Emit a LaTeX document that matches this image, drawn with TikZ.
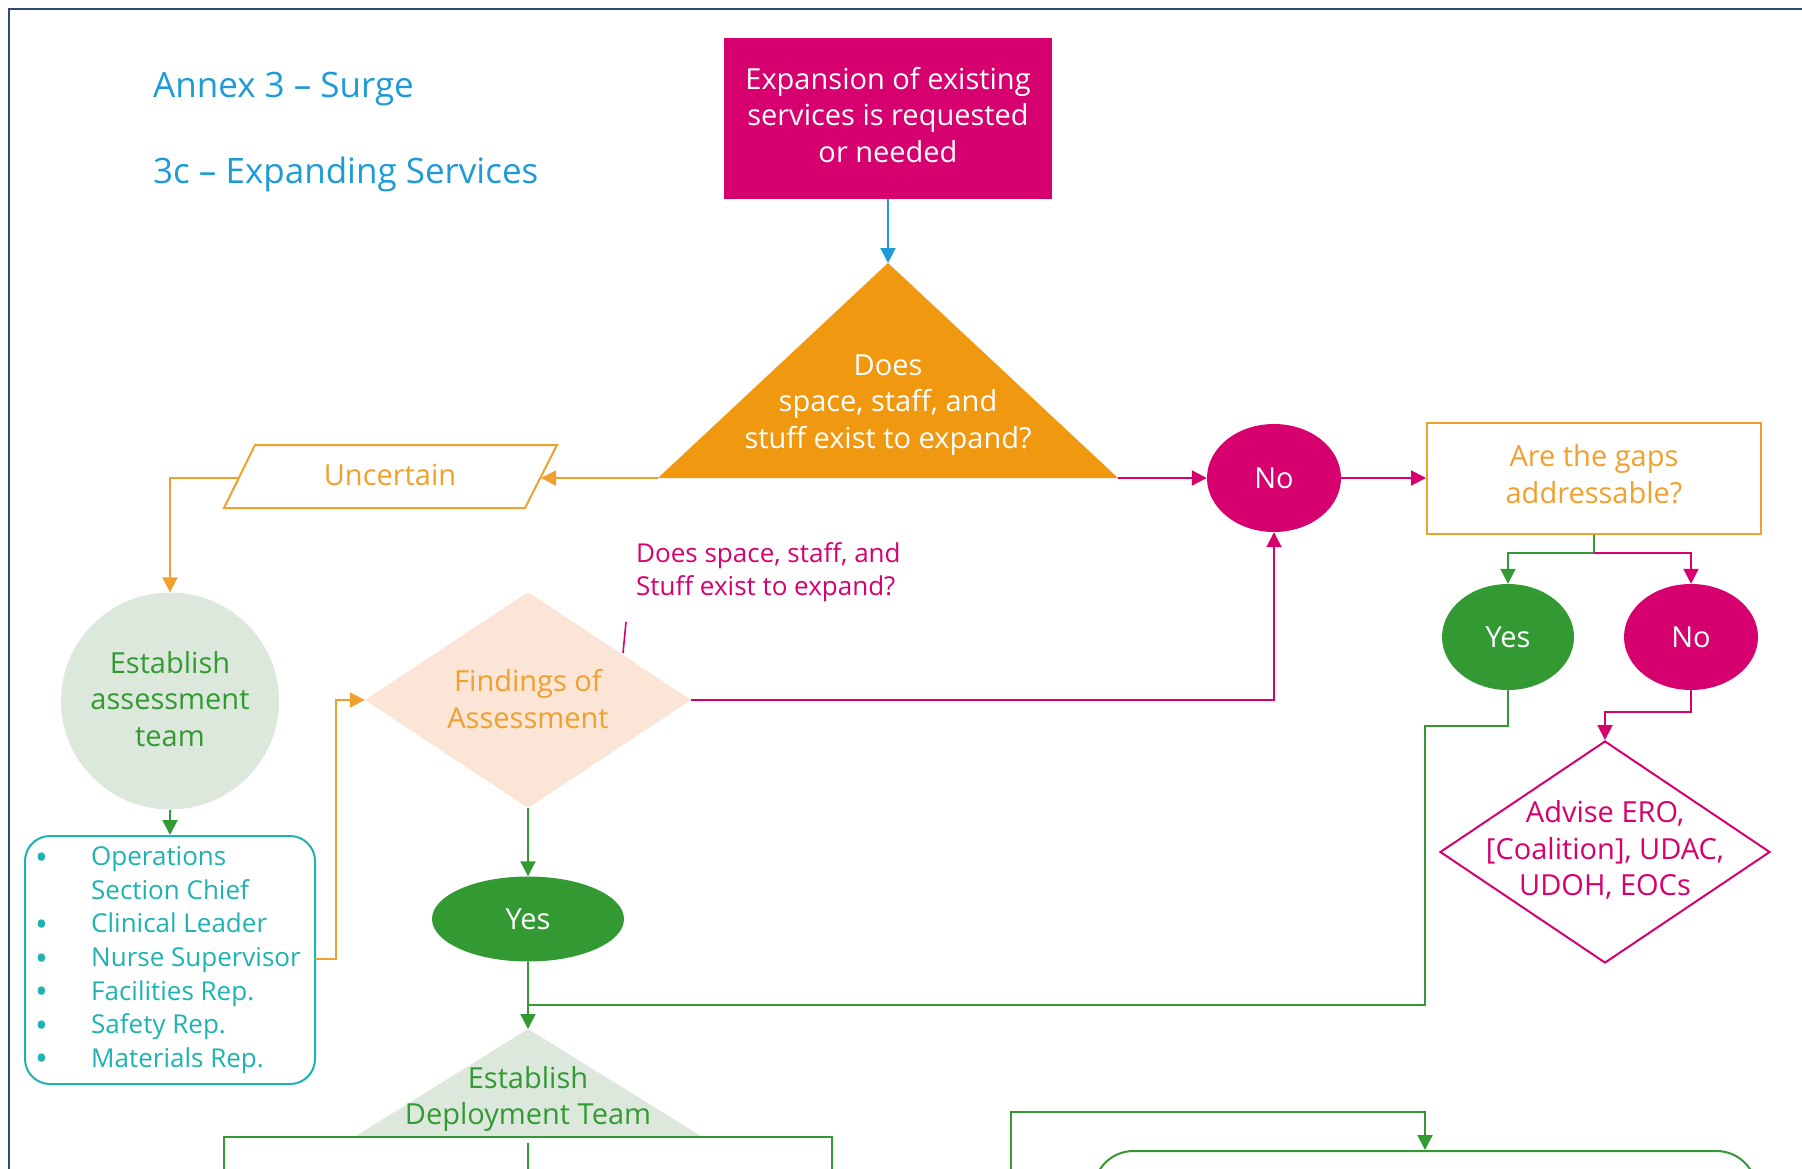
\documentclass[tikz,border=0pt]{standalone}
\usepackage{fontspec}
\setmainfont{Open Sans}
\usetikzlibrary{shapes.geometric,arrows.meta}

\definecolor{mag}{RGB}{214,0,111}
\definecolor{orgfill}{RGB}{239,152,16}
\definecolor{orgline}{RGB}{240,160,45}
\definecolor{grn}{RGB}{51,153,51}
\definecolor{ltgrn}{RGB}{220,232,220}
\definecolor{peach}{RGB}{251,229,214}
\definecolor{tealc}{RGB}{30,178,178}
\definecolor{blu}{RGB}{30,155,215}
\definecolor{framec}{RGB}{47,74,112}

\newcommand{\lbul}{{\fontsize{34}{10}\selectfont\raisebox{-3.5pt}{•}}}

\tikzset{
  txt/.style={font=\fontsize{29}{36.5}\selectfont, align=center, inner sep=0pt},
  conn/.style={line width=2pt},
  tip/.style={-{Triangle[length=15pt,width=15pt]}},
  titlestyle/.style={anchor=base west, text=blu, font=\fontsize{35}{42}\selectfont, inner sep=0pt},
}

\begin{document}
\begin{tikzpicture}[x=1pt,y=-1pt]
\useasboundingbox (0,0) rectangle (1802,1168);
\clip (0,0) rectangle (1802,1168);

% frame
\coordinate (frBL) at (9,1180);
\coordinate (frTL) at (9,9);
\coordinate (frTR) at (1810,9);
\draw[framec, line width=2.5pt] (frBL) -- (frTL) -- (frTR);

% titles
\node[titlestyle] (t1) at (153,97) {Annex 3 – Surge};
\node[titlestyle] (t2) at (153,183) {3c – Expanding Services};

% start box
\node[fill=mag, minimum width=328, minimum height=161, inner sep=0pt] (req) at (888,118.5) {};
\node[txt, text=white] (reqT) at (888,115) {Expansion of existing\\services is requested\\or needed};

% orange triangle
\coordinate (triA) at (888,263);
\coordinate (triL) at (658,478);
\coordinate (triR) at (1118,478);
\fill[orgfill] (triA) -- (triR) -- (triL) -- cycle;
\node[txt, text=white] (q1) at (888,405) {Does\\space, staff, and\\stuff exist to expand?};
\draw[conn, blu, tip] (req.south) -- (triA);

% uncertain parallelogram
\coordinate (u1) at (224,508);
\coordinate (u2) at (255,445);
\coordinate (u3) at (557,445);
\coordinate (u4) at (525,508);
\draw[orgline, line width=2pt, fill=white] (u1) -- (u2) -- (u3) -- (u4) -- cycle;
\node[txt, text=orgline] (unc) at (390,475) {Uncertain};
\coordinate (uncR) at (541,478);
\coordinate (uncL) at (239,478);
\draw[conn, orgline, tip] (triL) -- (uncR);

% establish assessment team
\node[ellipse, fill=ltgrn, minimum width=218, minimum height=217, inner sep=0pt] (est) at (170,701) {};
\node[txt, text=grn] (estT) at (170,699) {Establish\\assessment\\team};
\draw[conn, orgline, tip] (uncL) -| (est.north);

% list box
\node[draw=tealc, line width=2pt, rounded corners=25pt, minimum width=290, minimum height=248, inner sep=0pt] (lst) at (170,960) {};
\node[anchor=north west, inner sep=0pt, text=tealc, font=\fontsize{26}{33.6}\selectfont] (lstT) at (35,842)
  {\begin{tabular}{@{}p{56pt}@{}l@{}}
   \lbul&Operations\\
    &Section Chief\\
   \lbul&Clinical Leader\\
   \lbul&Nurse Supervisor\\
   \lbul&Facilities Rep.\\
   \lbul&Safety Rep.\\
   \lbul&Materials Rep.
  \end{tabular}};
\draw[conn, grn, tip] (est.south) -- (lst.north);

% findings diamond
\node[diamond, fill=peach, minimum width=326, minimum height=216, inner sep=0pt] (find) at (528,700) {};
\node[txt, text=orgline] (findT) at (528,699) {Findings of\\Assessment};
\coordinate (lstR) at (315,959);
\draw[conn, orgline, tip] (lstR) -- ++(21,0) |- (find.west);

% annotation
\node[anchor=west, text=mag, font=\fontsize{26}{33}\selectfont, align=left, inner sep=0pt] (ann) at (636,572)
  {Does space, staff, and\\Stuff exist to expand?};
\coordinate (tk1) at (626,622);
\coordinate (tk2) at (623,653);
\draw[mag, line width=1.6pt] (tk1) -- (tk2);

% No (upper)
\node[ellipse, fill=mag, minimum width=134, minimum height=108, txt, text=white] (no1) at (1274,478) {No};
\draw[conn, mag, tip] (triR) -- (no1.west);
\draw[conn, mag, tip] (find.east) -| (no1.south);

% gaps box
\node[draw=orgline, line width=2pt, fill=white, minimum width=334, minimum height=111, inner sep=0pt] (gaps) at (1594,478) {};
\node[txt, text=orgline] (gapsT) at (1594,474) {Are the gaps\\addressable?};
\draw[conn, mag, tip] (no1.east) -- (gaps.west);

% Yes / No (right)
\node[ellipse, fill=grn, minimum width=132, minimum height=106, txt, text=white] (yes2) at (1508,637) {Yes};
\node[ellipse, fill=mag, minimum width=134, minimum height=106, txt, text=white] (no2) at (1691,637) {No};
\coordinate (gj) at (1594,553);
\draw[conn, grn] (gaps.south) -- (gj);
\draw[conn, mag, tip] (gj) -| (no2.north);
\draw[conn, grn, tip] (gj) -| (yes2.north);

% advise diamond
\node[diamond, draw=mag, line width=2pt, fill=white, minimum width=330, minimum height=222, inner sep=0pt] (adv) at (1605,852) {};
\node[txt, text=mag] (advT) at (1605,850) {Advise ERO,\\{}[Coalition], UDAC,\\UDOH, EOCs};
\draw[conn, mag, tip] (no2.south) -- ++(0,22) -| (adv.north);

% Yes (middle)
\node[ellipse, fill=grn, minimum width=192, minimum height=85, txt, text=white] (yes1) at (528,919) {Yes};
\draw[conn, grn, tip] (find.south) -- (yes1.north);

% deployment triangle
\coordinate (dA) at (528,1029);
\coordinate (dL) at (356,1136);
\coordinate (dR) at (701,1136);
\fill[ltgrn] (dA) -- (dR) -- (dL) -- cycle;
\node[txt, text=grn] (depT) at (528,1099) {Establish\\Deployment Team};
\draw[conn, grn, tip] (yes1.south) -- (dA);
\coordinate (mj) at (528,1005);
\draw[conn, grn] (yes2.south) -- (1508,726) -- (1425,726) -- (1425,1005) -- (mj);

% lines below deployment team
\coordinate (bL) at (224,1137);
\coordinate (bR) at (832,1137);
\coordinate (bLd) at (224,1180);
\coordinate (bRd) at (832,1180);
\coordinate (bM) at (528,1143);
\coordinate (bMd) at (528,1180);
\draw[conn, grn] (bLd) -- (bL) -- (bR) -- (bRd);
\draw[conn, grn] (bM) -- (bMd);

% bottom right
\node[draw=grn, line width=2pt, rounded corners=40pt, minimum width=663, minimum height=200, inner sep=0pt] (fin) at (1425,1251) {};
\coordinate (brS) at (1011,1180);
\draw[conn, grn, tip] (brS) -- (1011,1112) -| (fin.north);

\end{tikzpicture}
\end{document}
